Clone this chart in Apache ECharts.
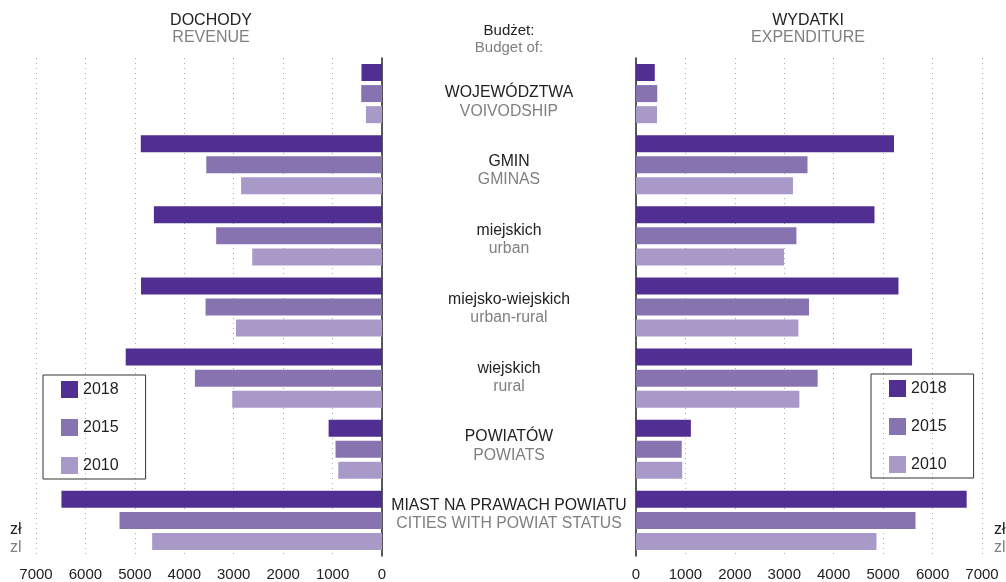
<!DOCTYPE html>
<html>
<head>
<meta charset="utf-8">
<script src="https://cdn.jsdelivr.net/npm/echarts@6/dist/echarts.min.js"></script>
<style>
  html, body { margin: 0; padding: 0; background: #fff; }
  #chart { width: 1006px; height: 582px; }
</style>
</head>
<body>
<div id="chart"></div>
<script>
// categories (Polish / English)
const categoriesPl = ['WOJEWÓDZTWA', 'GMIN', 'miejskich', 'miejsko-wiejskich', 'wiejskich', 'POWIATÓW', 'MIAST NA PRAWACH POWIATU'];
const categoriesEn = ['VOIVODSHIP', 'GMINAS', 'urban', 'urban-rural', 'rural', 'POWIATS', 'CITIES WITH POWIAT STATUS'];
const years = ['2018', '2015', '2010'];

// revenue per capita, zł
const revenue2018 = [415, 4880, 4615, 4875, 5185, 1080, 6485];
const revenue2015 = [420, 3555, 3355, 3570, 3785, 940, 5310];
const revenue2010 = [325, 2850, 2625, 2955, 3030, 885, 4650];

// expenditure per capita, zł
const expenditure2018 = [380, 5220, 4825, 5310, 5585, 1110, 6690];
const expenditure2015 = [430, 3470, 3245, 3500, 3675, 925, 5655];
const expenditure2010 = [425, 3175, 2995, 3285, 3305, 935, 4865];

const ticks = [0, 1000, 2000, 3000, 4000, 5000, 6000, 7000];

const colors = ['#512e91', '#8773b0', '#a899c9'];
const dark = '#222';
const grey = '#808080';
const font = '"Liberation Sans", Arial, sans-serif';

const chart = echarts.init(document.getElementById('chart'));

function valueAxis(idx, inverse) {
    return {
        type: 'value', gridIndex: idx, inverse: inverse,
        min: ticks[0], max: ticks[ticks.length - 1], interval: 1000,
        axisLine: { show: false }, axisTick: { show: false },
        axisLabel: { color: dark, fontSize: 15, fontFamily: font, margin: 11, formatter: v => String(v) },
        splitLine: { lineStyle: { color: '#aaa', type: [1, 4], width: 1 } }
    };
}

function catAxis(idx, pos) {
    return {
        type: 'category', gridIndex: idx, data: categoriesPl, inverse: true, position: pos,
        axisLine: { lineStyle: { color: dark, width: 1.5 } },
        axisTick: { show: false }, axisLabel: { show: false }
    };
}

function bars(name, data, idx, color) {
    return {
        type: 'bar', name: name, data: data,
        xAxisIndex: idx, yAxisIndex: idx,
        barWidth: 17, barGap: '24%',
        itemStyle: { color: color },
        emphasis: { disabled: true }
    };
}

function legend(left, top) {
    return {
        data: years, orient: 'vertical', left: left, top: top,
        icon: 'rect', itemWidth: 17, itemHeight: 17, itemGap: 21,
        padding: [6, 27, 5, 18],
        borderColor: '#333', borderWidth: 1,
        textStyle: { color: dark, fontSize: 16, fontFamily: font }
    };
}

function label(text, x, y, fill, size) {
    return { type: 'text', x: x, y: y, silent: true,
        style: { text: text, fill: fill, fontSize: size, fontFamily: font, align: 'center', verticalAlign: 'middle' } };
}

// centre column labels: evenly spaced, starting at the first group
const labelTop = 93, labelStep = 68.8, labelGap = 18.3;
const centreLabels = [];
categoriesPl.forEach((c, i) => {
    const y = labelTop + i * labelStep;
    centreLabels.push(label(c, 509, y, dark, 15.8));
    centreLabels.push(label(categoriesEn[i], 509, y + labelGap, grey, 15.8));
});

chart.setOption({
    animation: false,
    textStyle: { fontFamily: font },
    grid: [
        { left: 36, width: 346, top: 58, height: 498 },
        { left: 636, width: 346, top: 58, height: 498 }
    ],
    legend: [legend(43, 375), legend(871, 374)],
    xAxis: [valueAxis(0, true), valueAxis(1, false)],
    yAxis: [catAxis(0, 'right'), catAxis(1, 'left')],
    series: [
        bars('2018', revenue2018, 0, colors[0]),
        bars('2015', revenue2015, 0, colors[1]),
        bars('2010', revenue2010, 0, colors[2]),
        bars('2018', expenditure2018, 1, colors[0]),
        bars('2015', expenditure2015, 1, colors[1]),
        bars('2010', expenditure2010, 1, colors[2])
    ],
    graphic: [
        label('DOCHODY', 211, 21, dark, 16),
        label('REVENUE', 211, 38, grey, 16),
        label('WYDATKI', 808, 21, dark, 16),
        label('EXPENDITURE', 808, 38, grey, 16),
        label('Budżet:', 509, 31, dark, 15),
        label('Budget of:', 509, 48, grey, 15),
        { type: 'text', x: 10, y: 530, style: { text: 'zł', fill: dark, fontSize: 16, fontFamily: font, verticalAlign: 'middle' } },
        { type: 'text', x: 10, y: 548, style: { text: 'zl', fill: grey, fontSize: 16, fontFamily: font, verticalAlign: 'middle' } },
        { type: 'text', x: 994, y: 530, style: { text: 'zł', fill: dark, fontSize: 16, fontFamily: font, verticalAlign: 'middle' } },
        { type: 'text', x: 994, y: 548, style: { text: 'zl', fill: grey, fontSize: 16, fontFamily: font, verticalAlign: 'middle' } }
    ].concat(centreLabels)
});
</script>
</body>
</html>
